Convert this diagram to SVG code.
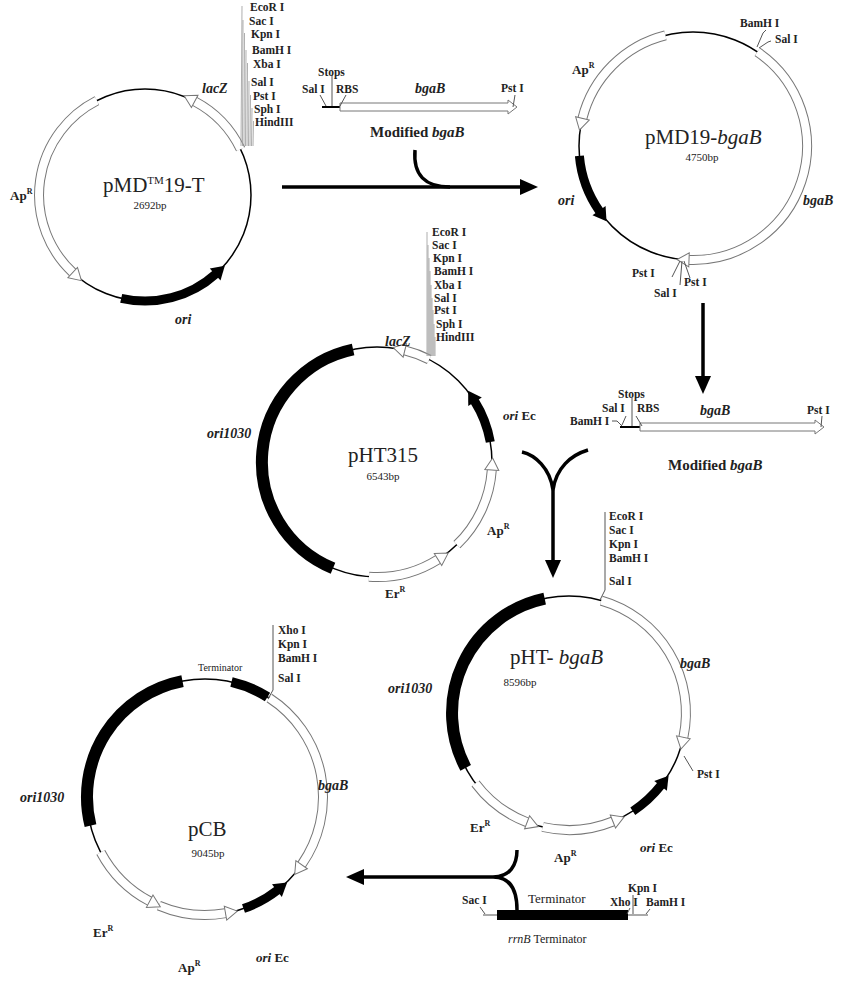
<svg xmlns="http://www.w3.org/2000/svg" width="850" height="992" viewBox="0 0 850 992">
<defs>
<marker id="oh" markerUnits="userSpaceOnUse" markerWidth="20" markerHeight="20" refX="0" refY="0" orient="auto" viewBox="-2 -10 18 20" overflow="visible"><path d="M0,-7 L12,0 L0,7 Z" fill="#fff" stroke="#777" stroke-width="1"/></marker>
<marker id="bh" markerUnits="userSpaceOnUse" markerWidth="20" markerHeight="20" refX="0" refY="0" orient="auto" viewBox="-2 -10 18 20" overflow="visible"><path d="M-1,-8 L12,0 L-1,8 Z" fill="#000"/></marker>
<marker id="ah" markerUnits="userSpaceOnUse" markerWidth="24" markerHeight="24" refX="0" refY="0" orient="auto" viewBox="-2 -12 22 24" overflow="visible"><path d="M-2,-8 L16,0 L-2,8 Z" fill="#000"/></marker>
</defs>
<style>
text{font-family:"Liberation Serif","Times New Roman",serif;fill:#222}
.ring{fill:none;stroke:#000;stroke-width:1.5}
.band{fill:none;stroke:#777;stroke-width:10}
.bin{fill:none;stroke:#fff;stroke-width:8;marker-end:url(#oh)}
.blk{fill:none;stroke:#000;stroke-width:9;marker-end:url(#bh)}
.thick{fill:none;stroke:#000;stroke-width:12}
.tick{fill:none;stroke:#555;stroke-width:1}
.conn{fill:none;stroke:#000;stroke-width:3.5}
.s{font-size:11.5px;font-weight:bold}
.m{font-size:13px;font-weight:bold}
.gi{font-size:14px;font-weight:bold;font-style:italic}
.big{font-size:21px}
.bp{font-size:11px}
</style>

<g id="pMD19T">
<circle class="ring" cx="145" cy="195" r="106"/>
<path class="band" d="M240.6,149.2 A106,106 0 0 0 194.7,101.4"/><path class="bin" d="M240.6,149.2 A106,106 0 0 0 194.7,101.4"/>
<path class="band" d="M96.9,100.6 A106,106 0 0 0 72.7,272.5"/><path class="bin" d="M96.9,100.6 A106,106 0 0 0 72.7,272.5"/>
<path class="blk" d="M121.2,298.3 A106,106 0 0 0 215.9,273.8"/>
<g stroke="#999" stroke-width="0.8"><path d="M241,146 L242,6 M242.5,146 L243,20 M244,146 L244.5,33 M245.5,146 L246,50 M247,146 L247.5,63 M248.5,146 L249,81 M250,146 L250.5,95 M251.5,146 L252,108 M253,146 L253.5,121"/></g>
<text x="250" y="11" class="s">EcoR I</text><text x="249" y="25" class="s">Sac I</text><text x="251" y="38" class="s">Kpn I</text>
<text x="252" y="54" class="s">BamH I</text><text x="253" y="68" class="s">Xba I</text><text x="251" y="86" class="s">Sal I</text>
<text x="253" y="100" class="s">Pst I</text><text x="254" y="113" class="s">Sph I</text><text x="255" y="126" class="s">HindIII</text>
<text x="202" y="93" class="gi">lacZ</text>
<text x="10" y="200" class="m">Ap<tspan font-size="8" dy="-6">R</tspan></text>
<text x="103" y="192" class="big">pMD<tspan font-size="11" dy="-8">TM</tspan><tspan dy="8">19-T</tspan></text>
<text x="150" y="209" class="bp" text-anchor="middle">2692bp</text>
<text x="175" y="324" class="gi">ori</text>
</g>

<g id="modified1">
<path d="M322,107 L340,107" stroke="#000" stroke-width="2"/>
<path d="M340,103 L508,103 L508,100 L517,107 L508,114 L508,111 L340,111 Z" fill="#fff" stroke="#777"/>
<path class="tick" d="M320,95 L326,106 M332,75 L332,106 M346,95 L340,106 M515,95 L513,107"/>
<text x="318" y="76" class="s">Stops</text>
<text x="302" y="93" class="s">Sal I</text><text x="336" y="93" class="s">RBS</text>
<text x="415" y="93" class="gi">bgaB</text><text x="501" y="92" class="s">Pst I</text>
<text x="370" y="137" style="font-size:15px;font-weight:bold">Modified <tspan font-style="italic">bgaB</tspan></text>
</g>

<g id="pMD19bgaB">
<circle class="ring" cx="693" cy="146" r="114"/>
<path class="band" d="M665.4,35.4 A114,114 0 0 0 582.4,118.4"/><path class="bin" d="M665.4,35.4 A114,114 0 0 0 582.4,118.4"/>
<path class="blk" d="M579.4,155.9 A114,114 0 0 0 599.6,211.4"/>
<path class="band" d="M757.4,51.9 A114,114 0 0 1 689,259.9"/><path class="bin" d="M757.4,51.9 A114,114 0 0 1 689,259.9"/>
<path class="tick" d="M757,47 L763,33 L766,30 M759,48 L768,42 L771,41 M680,261 L672,277 M682,261 L680,285 M684,261 L690,278"/>
<text x="740" y="27" class="s">BamH I</text><text x="775" y="43" class="s">Sal I</text>
<text x="572" y="74" class="m">Ap<tspan font-size="8" dy="-6">R</tspan></text>
<text x="645" y="144" class="big">pMD19-<tspan font-style="italic">bgaB</tspan></text>
<text x="702" y="161" class="bp" text-anchor="middle">4750bp</text>
<text x="558" y="205" class="gi">ori</text><text x="803" y="205" class="gi">bgaB</text>
<text x="632" y="277" class="s">Pst I</text><text x="654" y="297" class="s">Sal I</text><text x="684" y="286" class="s">Pst I</text>
</g>

<g id="modified2">
<path d="M620,427 L640,427" stroke="#000" stroke-width="2"/>
<path d="M640,423 L815,423 L815,420 L824,427 L815,434 L815,431 L640,431 Z" fill="#fff" stroke="#777"/>
<path class="tick" d="M612,421 L617,421 L622,426 M626,416 L622,425 M632,398 L632,426 M636,416 L642,426 M822,416 L821,427"/>
<text x="618" y="398" class="s">Stops</text>
<text x="602" y="412" class="s">Sal I</text><text x="637" y="412" class="s">RBS</text>
<text x="700" y="415" class="gi">bgaB</text><text x="807" y="414" class="s">Pst I</text>
<text x="570" y="425" class="s">BamH I</text>
<text x="668" y="470" style="font-size:15px;font-weight:bold">Modified <tspan font-style="italic">bgaB</tspan></text>
</g>

<g id="pHT315">
<circle class="ring" cx="377" cy="462" r="115"/>
<path class="band" d="M429.2,359.5 A115,115 0 0 0 404.8,350.4"/><path class="bin" d="M429.2,359.5 A115,115 0 0 0 404.8,350.4"/>
<path class="thick" d="M353.1,349.5 A115,115 0 0 0 333,568.3"/>
<path class="blk" d="M490.3,442 A115,115 0 0 0 474.5,401"/>
<path class="band" d="M456.9,544.7 A115,115 0 0 0 491.8,470"/><path class="bin" d="M456.9,544.7 A115,115 0 0 0 491.8,470"/>
<path class="band" d="M369,576.8 A115,115 0 0 0 438,559.5"/><path class="bin" d="M369,576.8 A115,115 0 0 0 438,559.5"/>
<g stroke="#999" stroke-width="0.8"><path d="M427,356 L427,232 M428,356 L428,245 M429,356 L429,258 M430,356 L430,271 M431,356 L431,285 M432,356 L432,298 M433,356 L433,310 M434,356 L434,324 M435,356 L435,337"/></g>
<text x="432" y="236" class="s">EcoR I</text><text x="432" y="249" class="s">Sac I</text><text x="433" y="262" class="s">Kpn I</text>
<text x="434" y="275" class="s">BamH I</text><text x="434" y="289" class="s">Xba I</text><text x="434" y="302" class="s">Sal I</text>
<text x="434" y="314" class="s">Pst I</text><text x="436" y="328" class="s">Sph I</text><text x="436" y="341" class="s">HindIII</text>
<text x="385" y="346" class="gi">lacZ</text>
<text x="207" y="438" class="gi">ori1030</text>
<text x="503" y="420" class="m"><tspan font-style="italic">ori</tspan> Ec</text>
<text x="487" y="535" class="m">Ap<tspan font-size="8" dy="-6">R</tspan></text>
<text x="385" y="598" class="m" font-weight="normal">Er<tspan font-size="8" dy="-6">R</tspan></text>
<text x="348" y="462" class="big" font-size="22">pHT315</text>
<text x="383" y="480" class="bp" text-anchor="middle">6543bp</text>
</g>

<g id="pHTbgaB">
<circle class="ring" cx="569" cy="713" r="117"/>
<path class="thick" d="M544.7,598.6 A117,117 0 0 0 465.7,767.9"/>
<path class="band" d="M601.3,600.6 A117,117 0 0 1 683.4,737.3"/><path class="bin" d="M601.3,600.6 A117,117 0 0 1 683.4,737.3"/>
<path class="blk" d="M632.8,811.2 A117,117 0 0 0 661.2,785.1"/>
<path class="band" d="M542.7,827 A117,117 0 0 0 612.9,821.5"/><path class="bin" d="M542.7,827 A117,117 0 0 0 612.9,821.5"/>
<path class="band" d="M475.5,783.4 A117,117 0 0 0 527.1,822.3"/><path class="bin" d="M475.5,783.4 A117,117 0 0 0 527.1,822.3"/>
<path class="tick" d="M600,600 L605,590 L605,512 M684,756 L693,771"/>
<text x="609" y="520" class="s">EcoR I</text><text x="609" y="534" class="s">Sac I</text><text x="609" y="548" class="s">Kpn I</text>
<text x="609" y="562" class="s">BamH I</text><text x="609" y="585" class="s">Sal I</text>
<text x="680" y="668" class="gi">bgaB</text>
<text x="388" y="693" class="gi">ori1030</text>
<text x="510" y="664" class="big">pHT- <tspan font-style="italic">bgaB</tspan></text>
<text x="520" y="686" class="bp" text-anchor="middle">8596bp</text>
<text x="697" y="778" class="s">Pst I</text>
<text x="470" y="832" class="m" font-weight="normal">Er<tspan font-size="8" dy="-6">R</tspan></text>
<text x="554" y="862" class="m" font-weight="normal">Ap<tspan font-size="8" dy="-6">R</tspan></text>
<text x="640" y="852" class="m"><tspan font-style="italic">ori</tspan> Ec</text>
</g>

<g id="rrnB">
<path d="M483,915 L648,915" stroke="#555" stroke-width="1"/>
<rect x="497" y="910" width="131" height="10" fill="#000"/>
<path class="tick" d="M480,907 L485,914 M630,908 L627,914 M633,895 L633,914 M650,909 L646,914"/>
<text x="462" y="904" class="s" font-weight="normal">Sac I</text>
<text x="528" y="903" style="font-size:13px">Terminator</text>
<text x="610" y="906" class="s" font-weight="normal">Xho I</text>
<text x="628" y="892" class="s" font-weight="normal">Kpn I</text>
<text x="646" y="906" class="s" font-weight="normal">BamH I</text>
<text x="508" y="943" style="font-size:12px"><tspan font-style="italic">rrnB</tspan> Terminator</text>
</g>

<g id="pCB">
<circle class="ring" cx="205" cy="797" r="118"/>
<path class="thick" d="M182.5,681.1 A118,118 0 0 0 90.5,825.6"/>
<path fill="none" stroke="#000" stroke-width="10" d="M231.5,682 A118,118 0 0 1 267.5,697"/>
<path class="band" d="M269.3,698 A118,118 0 0 1 301.6,864.7"/><path class="bin" d="M269.3,698 A118,118 0 0 1 301.6,864.7"/>
<path class="blk" d="M243.5,908.6 A118,118 0 0 0 277.7,890"/>
<path class="band" d="M158.9,905.6 A118,118 0 0 0 225.5,913.2"/><path class="bin" d="M158.9,905.6 A118,118 0 0 0 225.5,913.2"/>
<path class="band" d="M100.8,852.3 A118,118 0 0 0 149.7,901.2"/><path class="bin" d="M100.8,852.3 A118,118 0 0 0 149.7,901.2"/>
<path class="tick" d="M268,699 L273,690 L273,625"/>
<text x="278" y="634" class="s">Xho I</text><text x="278" y="648" class="s">Kpn I</text>
<text x="278" y="662" class="s">BamH I</text><text x="278" y="682" class="s">Sal I</text>
<text x="198" y="671" style="font-size:10px">Terminator</text>
<text x="20" y="802" class="gi">ori1030</text>
<text x="318" y="790" class="gi">bgaB</text>
<text x="188" y="836" class="big" font-size="22">pCB</text>
<text x="208" y="857" class="bp" text-anchor="middle">9045bp</text>
<text x="93" y="937" class="m" font-weight="normal">Er<tspan font-size="8" dy="-6">R</tspan></text>
<text x="178" y="972" class="m" font-weight="normal">Ap<tspan font-size="8" dy="-6">R</tspan></text>
<text x="256" y="962" class="m"><tspan font-style="italic">ori</tspan> Ec</text>
</g>

<g id="connectors">
<path class="conn" d="M282,187 L522,187" marker-end="url(#ah)"/>
<path class="conn" d="M415,150 C413,175 425,187 450,187"/>
<path class="conn" d="M703,303 L703,378" marker-end="url(#ah)"/>
<path class="conn" d="M522,452 C535,455 550,468 553,490 C556,468 571,455 588,450"/>
<path class="conn" d="M553,490 L553,562" marker-end="url(#ah)"/>
<path class="conn" d="M517,850 C517,865 510,877 493,877 C510,877 517,890 517,910"/>
<path class="conn" d="M493,877 L362,877" marker-end="url(#ah)"/>
</g>
</svg>
